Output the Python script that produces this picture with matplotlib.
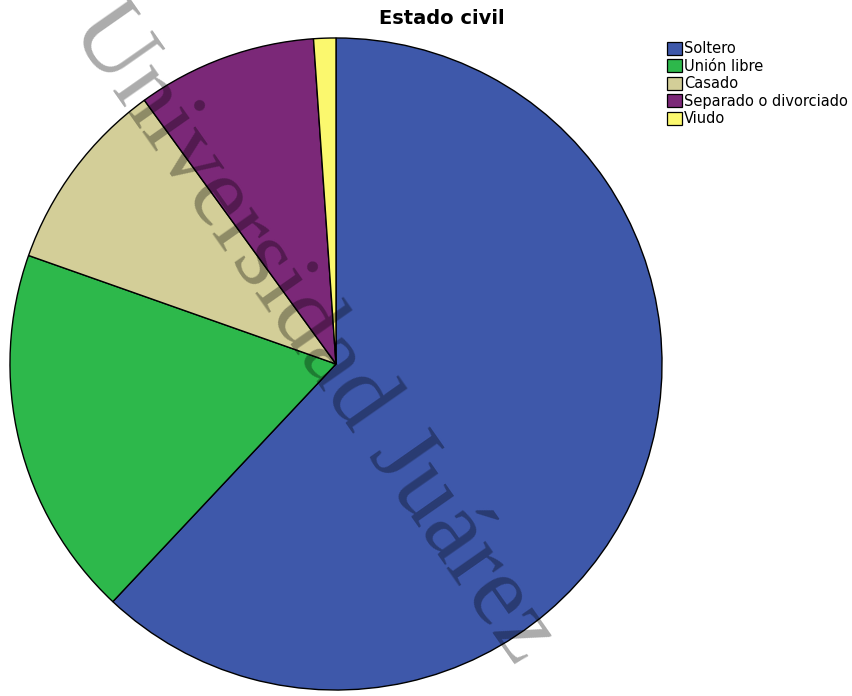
import matplotlib
matplotlib.use("Agg")
import matplotlib.pyplot as plt
from matplotlib.patches import Patch

# Estado civil (porcentaje de participantes)
categorias = ["Soltero", "Unión libre", "Casado", "Separado o divorciado", "Viudo"]
porcentajes = [62.0, 18.4, 9.6, 8.9, 1.1]
colores = ["#3E58AA", "#2DB84B", "#D3CE98", "#7B2878", "#FBF86E"]

W, H = 853, 696
fig = plt.figure(figsize=(W / 100, H / 100), dpi=100)

# pie centred at (336, 364) px with radius 327 px
cx, cy, r = 336, 364, 327
ax = fig.add_axes([(cx - r) / W, (H - cy - r) / H, 2 * r / W, 2 * r / H])
ax.pie(porcentajes, colors=colores, startangle=90, counterclock=False,
       radius=1.0, wedgeprops=dict(edgecolor="black", linewidth=1.0))
ax.set_xlim(-1.003, 1.003)
ax.set_ylim(-1.003, 1.003)
ax.set_aspect("equal")
ax.axis("off")

fig.text(442 / W, 1 - 18 / H, "Estado civil", ha="center", va="center",
         fontsize=14, fontweight="bold", family="DejaVu Sans")

handles = [Patch(facecolor=c, edgecolor="black", linewidth=0.9) for c in colores]
leg = fig.legend(handles, categorias, loc="upper left",
                 bbox_to_anchor=(657 / W, 1 - 31 / H), frameon=False,
                 fontsize=10.5, handlelength=1.0, handleheight=1.0,
                 handletextpad=0.15, labelspacing=0.17, borderpad=0.2)

# watermark
fig.text(312 / W, 1 - 334 / H, "Universidad Juárez", rotation=-55,
         rotation_mode="anchor", ha="center", va="center",
         fontsize=73, family="Liberation Serif", color="black", alpha=0.33)

fig.savefig("out.png", dpi=100)
